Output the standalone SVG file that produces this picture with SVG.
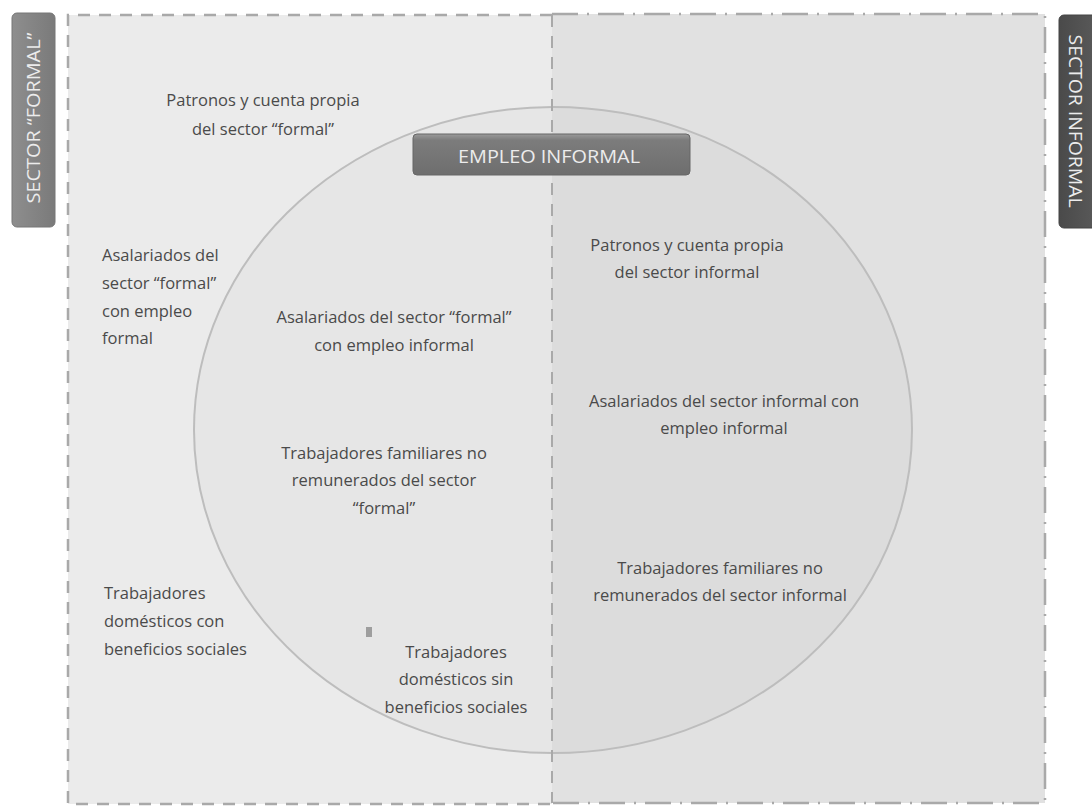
<svg xmlns="http://www.w3.org/2000/svg" width="1092" height="808" viewBox="0 0 1092 808">
<defs>
<style>
.t{font-family:"Open Sans","Liberation Sans",sans-serif;font-size:16.5px;fill:#4a4a4a}
.c{text-anchor:middle}
.tab{font-family:"Open Sans","Liberation Sans",sans-serif;font-size:19px;fill:#ececec;text-anchor:middle}
</style>
<linearGradient id="gMid" x1="0" y1="0" x2="0" y2="1">
<stop offset="0" stop-color="#9a9a9a"/><stop offset="0.15" stop-color="#7c7c7c"/><stop offset="1" stop-color="#6e6e6e"/>
</linearGradient>
<linearGradient id="gLeft" x1="0" y1="0" x2="1" y2="0">
<stop offset="0" stop-color="#8e8e8e"/><stop offset="1" stop-color="#7a7a7a"/>
</linearGradient>
<linearGradient id="gRight" x1="0" y1="0" x2="1" y2="0">
<stop offset="0" stop-color="#4a4a4a"/><stop offset="1" stop-color="#5a5a5a"/>
</linearGradient>
</defs>
<rect width="1092" height="808" fill="#ffffff"/>
<g id="sector-formal-area">
<rect x="68" y="15" width="484" height="789" fill="#ebebeb"/>
</g>
<g id="sector-informal-area">
<rect x="552" y="14" width="493" height="789" fill="#e1e1e1"/>
</g>
<g id="empleo-informal-ellipse">
<ellipse cx="553" cy="430" rx="359" ry="323" fill="#000" fill-opacity="0.02" stroke="#bdbdbd" stroke-width="2"/>
</g>
<g id="borders" fill="none" stroke="#a9a9a9" stroke-width="2.5">
<path d="M552 15 H68 V804 H552" stroke-dasharray="12 9"/>
<path d="M552 14 H1045 V803 H552" stroke-dasharray="26 9 2 9"/>
<line x1="552" y1="15" x2="552" y2="803" stroke-dasharray="12 9" stroke-width="2"/>
</g>
<g id="tab-formal">
<rect x="12" y="13" width="43" height="214" rx="5" fill="url(#gLeft)" stroke="#777" stroke-width="1"/>
<text class="tab" transform="translate(40,118) rotate(-90)" textLength="171" lengthAdjust="spacingAndGlyphs">SECTOR “FORMAL”</text>
</g>
<g id="tab-informal">
<rect x="1059" y="15" width="40" height="213" rx="5" fill="url(#gRight)" stroke="#444" stroke-width="1"/>
<text class="tab" transform="translate(1069,121) rotate(90)" textLength="173" lengthAdjust="spacingAndGlyphs">SECTOR INFORMAL</text>
</g>
<g id="empleo-informal-label">
<rect x="413" y="134" width="277" height="41" rx="4" fill="url(#gMid)" stroke="#666" stroke-width="1"/>
<text class="tab" x="549" y="163" font-size="20" textLength="182" lengthAdjust="spacingAndGlyphs">EMPLEO INFORMAL</text>
</g>
<g id="patronos-formal">
<text class="t c" x="263" y="106">Patronos y cuenta propia</text>
<text class="t c" x="263" y="135">del sector “formal”</text>
</g>
<g id="asalariados-formal">
<text class="t" x="102" y="261">Asalariados del</text>
<text class="t" x="102" y="289">sector “formal”</text>
<text class="t" x="102" y="317">con empleo</text>
<text class="t" x="102" y="344">formal</text>
</g>
<g id="asalariados-formal-informal">
<text class="t c" x="394" y="323">Asalariados del sector “formal”</text>
<text class="t c" x="394" y="351">con empleo informal</text>
</g>
<g id="familiares-formal">
<text class="t c" x="384" y="459">Trabajadores familiares no</text>
<text class="t c" x="384" y="486">remunerados del sector</text>
<text class="t c" x="384" y="514">“formal”</text>
</g>
<g id="domesticos-con">
<text class="t" x="104" y="599">Trabajadores</text>
<text class="t" x="104" y="627">domésticos con</text>
<text class="t" x="104" y="655">beneficios sociales</text>
</g>
<g id="domesticos-sin">
<rect x="366" y="627" width="6" height="10" fill="#9e9e9e"/>
<text class="t c" x="456" y="658">Trabajadores</text>
<text class="t c" x="456" y="685">domésticos sin</text>
<text class="t c" x="456" y="713">beneficios sociales</text>
</g>
<g id="patronos-informal">
<text class="t c" x="687" y="251">Patronos y cuenta propia</text>
<text class="t c" x="687" y="278">del sector informal</text>
</g>
<g id="asalariados-informal">
<text class="t c" x="724" y="407">Asalariados del sector informal con</text>
<text class="t c" x="724" y="434">empleo informal</text>
</g>
<g id="familiares-informal">
<text class="t c" x="720" y="574">Trabajadores familiares no</text>
<text class="t c" x="720" y="601">remunerados del sector informal</text>
</g>
</svg>
